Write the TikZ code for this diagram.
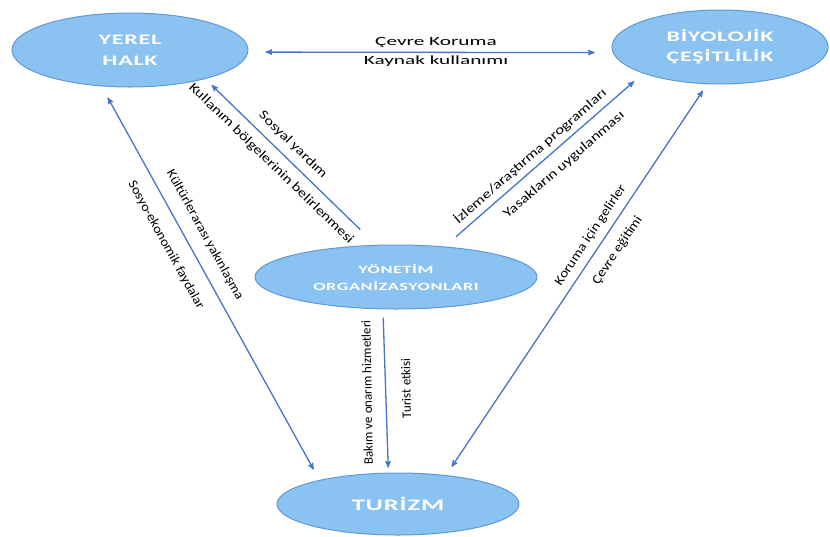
\documentclass[tikz,border=0pt]{standalone}
\usepackage{fontspec}
\setmainfont{Carlito}
\newfontfamily\ovalfont[FakeStretch=1.66,LetterSpace=5]{Carlito Bold}
\newfontfamily\widefont[FakeStretch=1.7]{Carlito}
\usepackage{xcolor}
\usepackage{tikz}
\usetikzlibrary{shapes.geometric}
\usetikzlibrary{arrows}

\definecolor{ovalfill}{RGB}{138,194,241}
\definecolor{ovalline}{RGB}{96,152,218}
\definecolor{arrowblue}{RGB}{68,116,204}

\begin{document}
\begin{tikzpicture}[x = 1pt, y = -1pt,
    oval/.style = {ellipse, draw = ovalline, line width = 1pt, fill = ovalfill, inner sep = 0pt, text = white, align = center},
    link/.style = {draw = arrowblue, line width = 1.3pt, >=stealth'},
    lab/.style = {inner sep = 0pt, sloped, font = \fontsize{13}{15}\selectfont\addfontfeatures{FakeStretch=#1}},
    vlab/.style = {inner sep = 0pt, font = \fontsize{13}{15}\selectfont, rotate = 91},
    hlab/.style = {inner sep = 0pt, font = \widefont\fontsize{12.5}{14}\selectfont}]
    \useasboundingbox (0, 0) rectangle (830, 536);

    \node[oval, minimum width = 236pt, minimum height = 74pt, font = \ovalfont\fontsize{14.5}{21}\selectfont] (yerel) at (130, 50) {YEREL\\HALK};
    \node[oval, minimum width = 216pt, minimum height = 74pt, font = \ovalfont\fontsize{14.5}{20}\selectfont] (biy) at (720, 47) {BİYOLOJİK\\ÇEŞİTLİLİK};
    \node[oval, minimum width = 282pt, minimum height = 64pt, font = \ovalfont\fontsize{11}{17}\selectfont] (yon) at (396, 277) {YÖNETİM\\ORGANİZASYONLARI};
    \node[oval, minimum width = 242pt, minimum height = 62pt, font = \ovalfont\fontsize{16}{18}\selectfont] (tur) at (398, 504) {TURİZM};

    \draw[link, <->, shorten <= 17.2pt, shorten >= 18pt] (yerel.-1) -- (biy.-177.3)
        node[hlab, pos = .515, above = 4.5pt] {Çevre Koruma}
        node[hlab, pos = .515, below = 2.5pt] {Kaynak kullanımı};
    \draw[link, ->, shorten <= 21.9pt, shorten >= 8.8pt] (yon.122.5) -- (yerel.-21.4)
        node[lab = 1.25, pos = .543, yshift = 13.8pt] {Sosyal yardım}
        node[lab = 1.25, pos = .553, yshift = -15.1pt] {Kullanım bölgelerinin belirlenmesi};
    \draw[link, <->, shorten <= 12.7pt, shorten >= 11.9pt] (yerel.-128.1) -- (tur.163.4)
        node[lab = 1.1, pos = .40, yshift = 18.5pt] {Kültürlerarası yakınlaşma}
        node[lab = 1.1, pos = .378, yshift = -20.4pt] {Sosyo-ekonomik faydalar};
    \draw[link, ->, shorten <= 15pt, shorten >= 11.9pt] (yon.32.3) -- (biy.-161)
        node[lab = 1.28, pos = .47, yshift = 12pt] {İzleme/araştırma programları}
        node[lab = 1.28, pos = .545, yshift = -17pt] {Yasakların uygulanması};
    \draw[link, <->, shorten <= 10pt, shorten >= 7.7pt] (tur.31.7) -- (biy.-109.1)
        node[lab = 1.15, pos = .595, yshift = 13pt] {Koruma için gelirler}
        node[lab = 1.15, pos = .60, yshift = -17.8pt] {Çevre eğitimi};
    \draw[link, ->, shorten <= 8.2pt, shorten >= 5pt] (yon.-112.6) -- (tur.107.6)
        node[vlab, pos = .507, yshift = 18.5pt] {Bakım ve onarım hizmetleri}
        node[vlab, pos = .485, yshift = -20.5pt] {Turist etkisi};
\end{tikzpicture}
\end{document}
